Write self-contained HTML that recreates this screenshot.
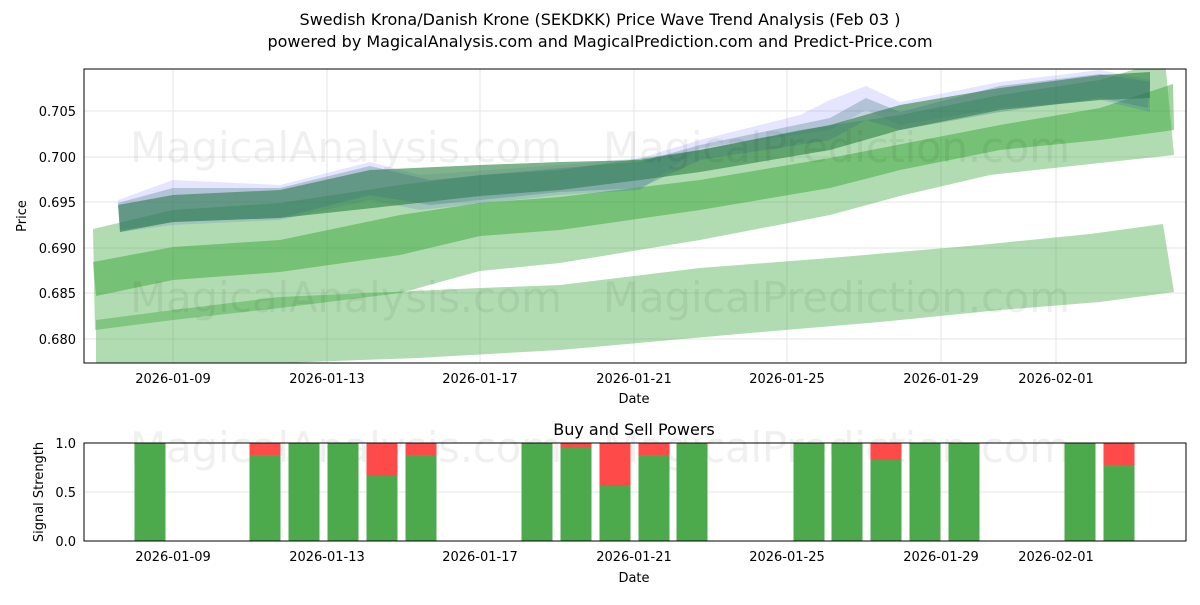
<!DOCTYPE html>
<html><head><meta charset="utf-8"><style>
body{margin:0;background:#fff;}
text{font-family:"DejaVu Sans","Liberation Sans",sans-serif;}
</style></head><body>
<svg width="1200" height="600" viewBox="0 0 1200 600" xmlns="http://www.w3.org/2000/svg">
<rect width="1200" height="600" fill="#fff"/>
<text x="600" y="25" font-size="16" text-anchor="middle">Swedish Krona/Danish Krone (SEKDKK) Price Wave Trend Analysis (Feb 03 )</text>
<text x="600" y="47" font-size="16" text-anchor="middle">powered by MagicalAnalysis.com and MagicalPrediction.com and Predict-Price.com</text>
<defs><clipPath id="c1"><rect x="84" y="69" width="1102" height="294"/></clipPath></defs>
<g stroke="#e6e6e6" stroke-width="1">
<line x1="173" y1="69" x2="173" y2="363"/><line x1="327" y1="69" x2="327" y2="363"/><line x1="480" y1="69" x2="480" y2="363"/><line x1="634" y1="69" x2="634" y2="363"/><line x1="787" y1="69" x2="787" y2="363"/><line x1="941" y1="69" x2="941" y2="363"/><line x1="1056" y1="69" x2="1056" y2="363"/>
<line x1="84" y1="111" x2="1186" y2="111"/><line x1="84" y1="157" x2="1186" y2="157"/><line x1="84" y1="202" x2="1186" y2="202"/><line x1="84" y1="248" x2="1186" y2="248"/><line x1="84" y1="293" x2="1186" y2="293"/><line x1="84" y1="339" x2="1186" y2="339"/>
</g>
<g clip-path="url(#c1)">
<polygon fill="#2ca02c" fill-opacity="0.37" points="96,320 173,310 280,297 480,288 560,285 700,268 830,258 980,245 1090,234 1163,224 1174,292 1100,302 1000,310 880,322 750,333 560,350 417,358 96,370"/>
<polygon fill="#2ca02c" fill-opacity="0.37" points="93,229 173,210 280,203 400,185 480,175 560,170 700,150 800,130 900,115 1000,95 1100,80 1165,60 1174,155 1100,163 990,175 900,196 830,215 700,240 560,263 480,271 400,293 280,308 173,320 95,330"/>
<polygon fill="#2ca02c" fill-opacity="0.45" points="93,262 173,247 280,240 400,215 480,203 560,197 700,180 830,158 1000,125 1100,108 1173,84 1174,130 1100,140 1000,150 900,170 830,188 700,210 560,230 480,236 400,255 280,272 173,280 96,296"/>
<polygon fill="#0000ff" fill-opacity="0.10" points="118,200 173,180 280,185 370,162 420,175 560,165 640,158 700,140 800,115 830,100 866,86 900,102 1000,82 1100,70 1150,80 1150,112 1100,100 1000,108 900,125 866,110 830,130 700,148 640,190 560,195 420,210 370,200 280,220 173,225 120,232"/>
<polygon fill="#2a8040" fill-opacity="0.6" points="118,205 173,195 280,190 370,170 480,165 560,162 640,160 700,150 830,125 900,105 1000,88 1100,75 1150,72 1150,98 1100,100 1000,110 900,130 830,150 700,172 640,180 560,190 480,196 400,205 280,218 173,222 120,232"/>
<polygon fill="#3b6f7a" fill-opacity="0.3" points="118,203 173,188 280,188 370,166 430,180 560,168 640,162 700,145 830,118 866,98 900,112 1000,86 1100,74 1150,82 1148,108 1100,98 1000,112 900,130 866,120 830,140 700,160 640,188 560,192 430,205 370,195 280,218 173,222 120,230"/>
</g>
<g fill="#000" fill-opacity="0.06" font-size="42">
<text x="130" y="162" textLength="432">MagicalAnalysis.com</text><text x="603" y="162" textLength="467">MagicalPrediction.com</text>
<text x="130" y="312" textLength="432">MagicalAnalysis.com</text><text x="603" y="312" textLength="467">MagicalPrediction.com</text>
<text x="130" y="462" textLength="432">MagicalAnalysis.com</text><text x="603" y="462" textLength="467">MagicalPrediction.com</text>
</g>
<rect x="84" y="69" width="1102" height="294" fill="none" stroke="#000" stroke-width="1"/>
<g font-size="13" text-anchor="middle">
<text x="173" y="383">2026-01-09</text><text x="327" y="383">2026-01-13</text><text x="480" y="383">2026-01-17</text><text x="634" y="383">2026-01-21</text><text x="787" y="383">2026-01-25</text><text x="941" y="383">2026-01-29</text><text x="1056" y="383">2026-02-01</text>
<text x="634" y="403">Date</text>
</g>
<g font-size="13" text-anchor="end">
<text x="76" y="116">0.705</text><text x="76" y="162">0.700</text><text x="76" y="207">0.695</text><text x="76" y="253">0.690</text><text x="76" y="298">0.685</text><text x="76" y="344">0.680</text>
</g>
<text transform="translate(26,216) rotate(-90)" font-size="13" text-anchor="middle">Price</text>
<text x="634" y="435" font-size="16" text-anchor="middle">Buy and Sell Powers</text>
<g stroke="#e6e6e6"><line x1="84" y1="492" x2="1186" y2="492"/></g>
<g>
<rect x="134.5" y="443" width="31" height="98" fill="#4caa4c"/>
<rect x="249.5" y="443" width="31" height="98" fill="#ff4a4a"/><rect x="249.5" y="455" width="31" height="86" fill="#4caa4c"/>
<rect x="288.5" y="443" width="31" height="98" fill="#4caa4c"/>
<rect x="327.5" y="443" width="31" height="98" fill="#4caa4c"/>
<rect x="366.5" y="443" width="31" height="98" fill="#ff4a4a"/><rect x="366.5" y="476" width="31" height="65" fill="#4caa4c"/>
<rect x="405.5" y="443" width="31" height="98" fill="#ff4a4a"/><rect x="405.5" y="455" width="31" height="86" fill="#4caa4c"/>
<rect x="521.5" y="443" width="31" height="98" fill="#4caa4c"/>
<rect x="560.5" y="443" width="31" height="98" fill="#ff4a4a"/><rect x="560.5" y="448" width="31" height="93" fill="#4caa4c"/>
<rect x="599.5" y="443" width="31" height="98" fill="#ff4a4a"/><rect x="599.5" y="486" width="31" height="55" fill="#4caa4c"/>
<rect x="638.5" y="443" width="31" height="98" fill="#ff4a4a"/><rect x="638.5" y="455" width="31" height="86" fill="#4caa4c"/>
<rect x="676.5" y="443" width="31" height="98" fill="#4caa4c"/>
<rect x="793.5" y="443" width="31" height="98" fill="#4caa4c"/>
<rect x="831.5" y="443" width="31" height="98" fill="#4caa4c"/>
<rect x="870.5" y="443" width="31" height="98" fill="#ff4a4a"/><rect x="870.5" y="460" width="31" height="81" fill="#4caa4c"/>
<rect x="909.5" y="443" width="31" height="98" fill="#4caa4c"/>
<rect x="948.5" y="443" width="31" height="98" fill="#4caa4c"/>
<rect x="1064.5" y="443" width="31" height="98" fill="#4caa4c"/>
<rect x="1103.5" y="443" width="31" height="98" fill="#ff4a4a"/><rect x="1103.5" y="465" width="31" height="76" fill="#4caa4c"/>
</g>
<rect x="84" y="443" width="1102" height="98" fill="none" stroke="#000" stroke-width="1"/>
<g font-size="13" text-anchor="middle">
<text x="173" y="561">2026-01-09</text><text x="327" y="561">2026-01-13</text><text x="480" y="561">2026-01-17</text><text x="634" y="561">2026-01-21</text><text x="787" y="561">2026-01-25</text><text x="941" y="561">2026-01-29</text><text x="1056" y="561">2026-02-01</text>
<text x="634" y="582">Date</text>
</g>
<g font-size="13" text-anchor="end">
<text x="76" y="448">1.0</text><text x="76" y="497">0.5</text><text x="76" y="546">0.0</text>
</g>
<text transform="translate(43,492) rotate(-90)" font-size="13" text-anchor="middle">Signal Strength</text>
</svg>
</body></html>
